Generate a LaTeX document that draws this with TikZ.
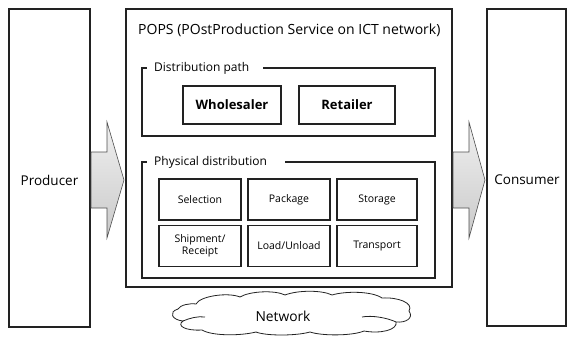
\documentclass[tikz,border=0pt]{standalone}
\usepackage{fontspec}
\setmainfont{Open Sans}
\usetikzlibrary{calc}
\definecolor{ink}{HTML}{222222}
\begin{document}
\begin{tikzpicture}[x=1pt,y=-1pt,
  outerbox/.style={draw=ink,line width=1.3pt,minimum width=#1},
  cell/.style={draw=ink,line width=1.8pt,minimum width=82pt,minimum height=41pt,font=\fontsize{10.5}{11.5}\selectfont,align=center},
  actor/.style={draw=ink,line width=1.8pt,minimum height=38pt,font=\bfseries\fontsize{13}{15}\selectfont},
  frame/.style={draw=ink,line width=1.5pt},
  framelabel/.style={fill=white,inner xsep=0pt,inner ysep=1pt,anchor=west,font=\fontsize{12}{13}\selectfont},
  sidelabel/.style={font=\fontsize{13.5}{15}\selectfont},
  flow/.style={draw=ink!80,line width=0.6pt,top color=gray!12,bottom color=gray!42}
]
\useasboundingbox (0,0) rectangle (567,337);

% side actors
\node[outerbox=81pt,minimum height=318pt] (producer) at (49.5,168) {};
\node[sidelabel] (producerlbl) at (49.5,180) {Producer};
\node[outerbox=79pt,minimum height=317pt] (consumer) at (526.5,167.5) {};
\node[sidelabel] (consumerlbl) at (527,180) {Consumer};

% service block
\node[outerbox=326pt,minimum height=278pt] (pops) at (289,148) {};
\node[anchor=west,inner sep=0pt,font=\fontsize{14}{16}\selectfont] (title) at (138,30) {POPS (POstProduction Service on ICT network)};

% distribution path frame
\node[frame,minimum width=293pt,minimum height=68pt] (dpath) at (288.5,102) {};
\node[framelabel] (dpathlbl) at (147,68) {\kern7pt Distribution path\kern14pt};
\node[actor,minimum width=98pt] (wholesaler) at (232,105) {Wholesaler};
\node[actor,minimum width=96pt] (retailer) at (347,105) {Retailer};

% physical distribution frame
\node[frame,minimum width=293pt,minimum height=116pt] (phys) at (288.5,220) {};
\node[framelabel] (physlbl) at (147,162) {\kern7pt Physical distribution\kern18pt};
\node[cell] (selection) at (200,199.5) {Selection};
\node[cell] (package)   at (289,199.5) {Package};
\node[cell,minimum width=80pt] (storage)   at (377,199.5) {Storage};
\node[cell] (shipment)  at (200,246) {Shipment/\\Receipt};
\node[cell] (load)      at (289,246) {Load/Unload};
\node[cell,minimum width=80pt] (transport) at (377,246) {Transport};

% block arrows
\path[flow] (91,152) -- (107,152) -- (107,122) -- (124,180) -- (107,238) -- (107,208) -- (91,208) -- cycle;
\path[flow] (453,152) -- (469,152) -- (469,122) -- (485,180) -- (469,238) -- (469,208) -- (453,208) -- cycle;

% network cloud
\draw[ink,line width=0.8pt,fill=white]
  (196,304) .. controls (200,296) and (228,292) .. (240,297)
  .. controls (250,291) and (275,290) .. (285,295)
  .. controls (298,290) and (322,290) .. (332,295)
  .. controls (345,291) and (372,291) .. (382,298)
  .. controls (398,297) and (414,303) .. (409,311)
  .. controls (414,318) and (406,323) .. (396,322)
  .. controls (398,330) and (380,334) .. (364,331)
  .. controls (352,336) and (322,336) .. (310,332)
  .. controls (296,336) and (266,336) .. (256,332)
  .. controls (240,336) and (212,336) .. (202,330)
  .. controls (186,331) and (176,326) .. (183,321)
  .. controls (172,320) and (168,312) .. (178,309)
  .. controls (180,305) and (190,303) .. (196,304) -- cycle;
\draw[ink,line width=0.8pt] (183,321) .. controls (190,318) and (198,316) .. (205,317);
\draw[ink,line width=0.8pt] (396,322) .. controls (388,318) and (372,315) .. (362,317);
\node[font=\fontsize{13.8}{15}\selectfont] (network) at (283,316) {Network};
\end{tikzpicture}
\end{document}
